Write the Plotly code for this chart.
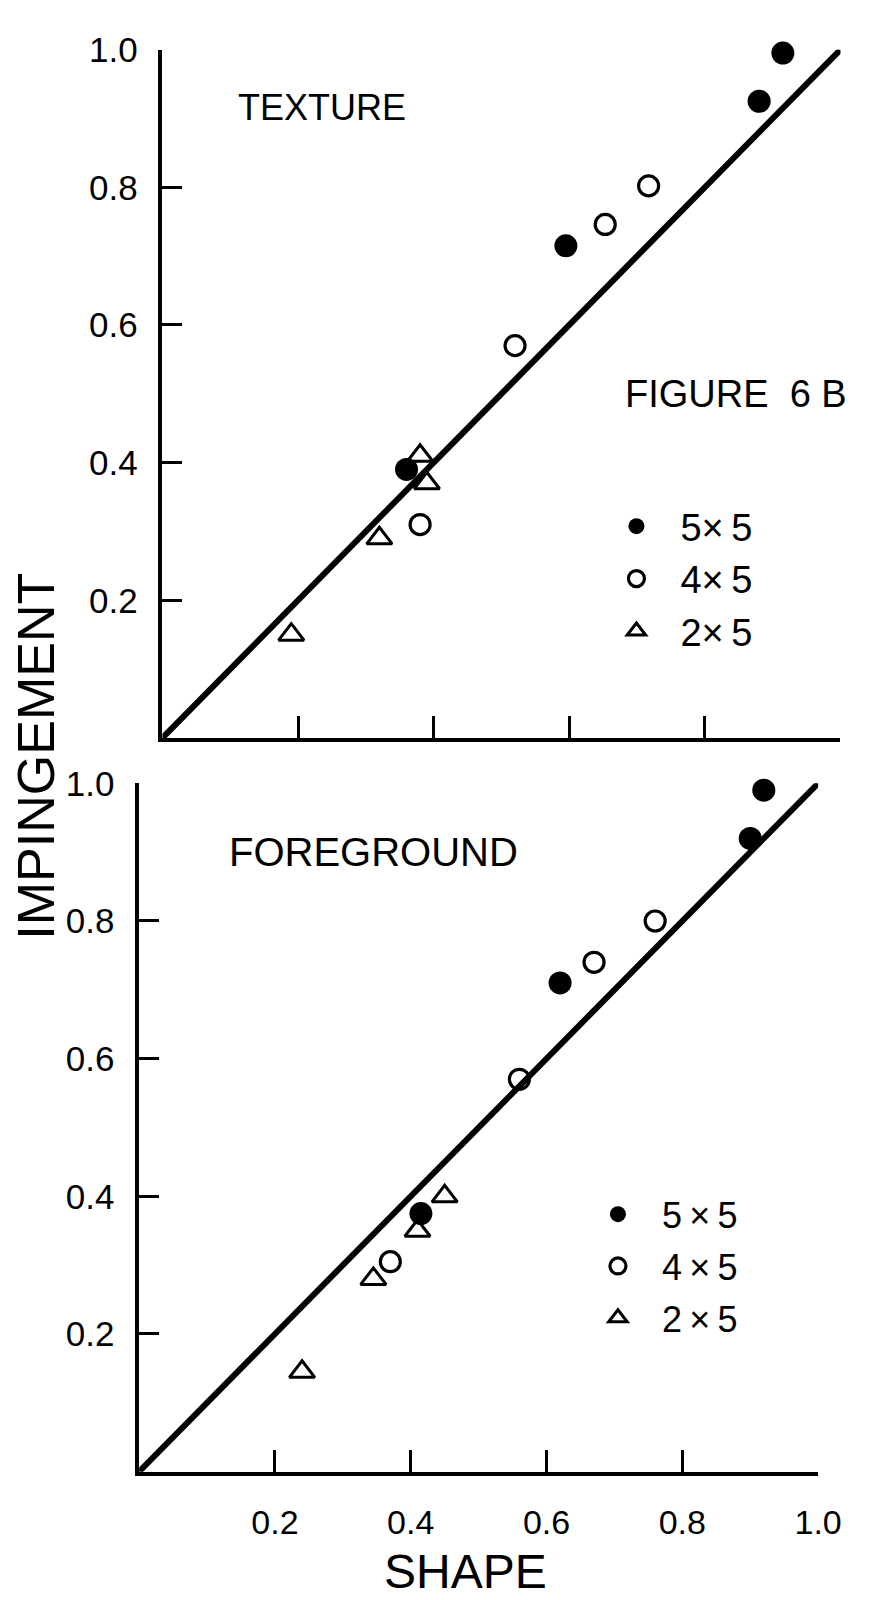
import plotly.graph_objects as go

# ---- data (SHAPE on x, IMPINGEMENT on y) ----
tex_55_shape = [0.915, 0.88, 0.595, 0.36]
tex_55_imp = [0.995, 0.925, 0.715, 0.39]
tex_45_shape = [0.717, 0.653, 0.52, 0.38]
tex_45_imp = [0.802, 0.746, 0.57, 0.31]
tex_25_shape = [0.38, 0.39, 0.32, 0.19]
tex_25_imp = [0.41, 0.37, 0.29, 0.15]

fg_55_shape = [0.92, 0.90, 0.62, 0.415]
fg_55_imp = [0.99, 0.92, 0.71, 0.375]
fg_45_shape = [0.76, 0.67, 0.56, 0.37]
fg_45_imp = [0.80, 0.74, 0.57, 0.305]
fg_25_shape = [0.45, 0.41, 0.345, 0.24]
fg_25_imp = [0.40, 0.35, 0.28, 0.145]

fit_x = [0.0, 1.0]
fit_y = [0.0, 1.0]

tick_vals = [0.2, 0.4, 0.6, 0.8, 1.0]
tick_text = ["0.2", "0.4", "0.6", "0.8", "1.0"]
series_names_top = ["5×\u20095", "4×\u20095", "2×\u20095"]
series_names_bot = ["5\u2009×\u20095", "4\u2009×\u20095", "2\u2009×\u20095"]

W, H = 882, 1600
SANS = "Liberation Sans, Arial, sans-serif"

fig = go.Figure()

styles = [
    dict(symbol="circle", size=23, color="black", line=dict(width=0)),
    dict(symbol="circle-open", size=20, color="black", line=dict(width=3.2)),
    dict(symbol="triangle-up-open", size=22, color="black", line=dict(width=3)),
]

top_sets = [(tex_55_shape, tex_55_imp), (tex_45_shape, tex_45_imp), (tex_25_shape, tex_25_imp)]
bot_sets = [(fg_55_shape, fg_55_imp), (fg_45_shape, fg_45_imp), (fg_25_shape, fg_25_imp)]

fig.add_trace(go.Scatter(x=fit_x, y=fit_y, mode="lines", line=dict(color="black", width=6),
                         showlegend=False, xaxis="x", yaxis="y"))
fig.add_trace(go.Scatter(x=fit_x, y=fit_y, mode="lines", line=dict(color="black", width=6),
                         showlegend=False, xaxis="x2", yaxis="y2"))

for i, (xs, ys) in enumerate(top_sets):
    fig.add_trace(go.Scatter(x=xs, y=ys, mode="markers", marker=styles[i], name=series_names_top[i],
                             legend="legend", legendgroup="t%d" % i, cliponaxis=False,
                             xaxis="x", yaxis="y"))
for i, (xs, ys) in enumerate(bot_sets):
    fig.add_trace(go.Scatter(x=xs, y=ys, mode="markers", marker=styles[i], name=series_names_bot[i],
                             legend="legend2", legendgroup="b%d" % i, cliponaxis=False,
                             xaxis="x2", yaxis="y2"))

# panel geometry (pixels)
top_x = (167, 864)
top_y = (30, 727)
bot_x = (143, 841)
bot_y = (773, 1470)


def xdom(a):
    return [a[0] / W, a[1] / W]


def ydom(a):
    return [1 - a[1] / H, 1 - a[0] / H]


axis_common = dict(range=[0, 1.0], showgrid=False, zeroline=False, showline=True,
                   linecolor="black", linewidth=3.5, ticks="inside", tickcolor="black",
                   tickwidth=3, tickvals=tick_vals, ticktext=tick_text,
                   tickfont=dict(family=SANS, size=35, color="black"))

fig.update_layout(
    width=W, height=H,
    margin=dict(l=0, r=0, t=0, b=0),
    paper_bgcolor="white", plot_bgcolor="white",
    xaxis=dict(axis_common, domain=xdom(top_x), anchor="y", ticklen=22, showticklabels=False),
    yaxis=dict(axis_common, domain=ydom(top_y), anchor="x", ticklen=20, ticklabelstandoff=14),
    xaxis2=dict(axis_common, domain=xdom(bot_x), anchor="y2", ticklen=22, ticklabelstandoff=18,
                tickfont=dict(family=SANS, size=34, color="black")),
    yaxis2=dict(axis_common, domain=ydom(bot_y), anchor="x2", ticklen=20, ticklabelstandoff=14),
    legend=dict(x=609 / W, y=1 - 481 / H, xanchor="left", yanchor="top",
                font=dict(family=SANS, size=38, color="black"), bgcolor="rgba(0,0,0,0)",
                tracegroupgap=0, itemsizing="trace", itemwidth=78),
    legend2=dict(x=590 / W, y=1 - 1179 / H, xanchor="left", yanchor="top",
                 font=dict(family=SANS, size=36, color="black"), bgcolor="rgba(0,0,0,0)",
                 tracegroupgap=2, itemsizing="trace", itemwidth=78),
    showlegend=True,
)

annos = [
    dict(text="TEXTURE", x=243 / W, y=1 - 89 / H, xanchor="left", size=36, angle=0),
    dict(text="FIGURE  6 B", x=640 / W, y=1 - 379 / H, xanchor="left", size=38, angle=0),
    dict(text="FOREGROUND", x=233 / W, y=1 - 843 / H, xanchor="left", size=40, angle=0),
    dict(text="IMPINGEMENT", x=37 / W, y=1 - 745 / H, xanchor="center", size=52, angle=-90),
    dict(text="SHAPE", x=479 / W, y=1 - 1571 / H, xanchor="center", size=48, angle=0),
]
for a in annos:
    fig.add_annotation(text=a["text"], x=a["x"], y=a["y"], xref="paper", yref="paper",
                       xanchor=a["xanchor"], yanchor="middle", showarrow=False,
                       textangle=a["angle"], font=dict(family=SANS, size=a["size"], color="black"))

fig.write_html("out.html")
